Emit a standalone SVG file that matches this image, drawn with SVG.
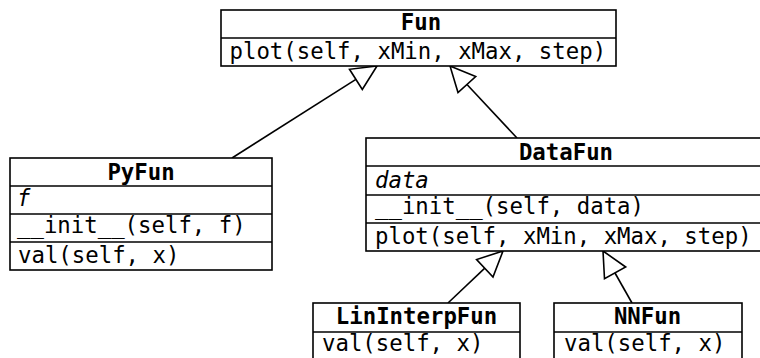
<svg xmlns="http://www.w3.org/2000/svg" width="760" height="358" viewBox="0 0 760 358">
<style>
.box{fill:#fff;stroke:#000;stroke-width:1.6}
.div{stroke:#000;stroke-width:1.6}
.t{font-family:"DejaVu Sans Mono","Liberation Mono",monospace;font-size:22.3px;fill:#000}
.b{font-weight:bold}
.i{font-style:italic}
.edge{stroke:#000;stroke-width:1.6;fill:none}
.head{fill:#fff;stroke:#000;stroke-width:1.6;stroke-linejoin:miter}
</style>
<rect width="760" height="358" fill="#fff"/>
<g id="connectors">
<line class="edge" x1="232" y1="158" x2="355.9" y2="79.4"/>
<polygon class="head" points="377,66 362.3,89.5 349.5,69.3"/>
<line class="edge" x1="517" y1="138" x2="467" y2="84.5"/>
<polygon class="head" points="450,66 475.7,76.5 458,92.5"/>
<line class="edge" x1="448" y1="303" x2="484.8" y2="268.2"/>
<polygon class="head" points="503,251 493,277 476.6,259.5"/>
<line class="edge" x1="632" y1="303" x2="615" y2="273"/>
<polygon class="head" points="603,251 625.7,267 604.5,278.8"/>
</g>
<g id="Fun">
<rect class="box" x="221" y="10" width="395" height="56"/>
<line class="div" x1="221" y1="38" x2="616" y2="38"/>
<text class="t b" x="400.8" y="30" textLength="40.35" lengthAdjust="spacingAndGlyphs">Fun</text>
<text class="t" x="229.5" y="59" textLength="376.6" lengthAdjust="spacingAndGlyphs">plot(self, xMin, xMax, step)</text>
</g>
<g id="PyFun">
<rect class="box" x="10" y="158" width="262" height="112"/>
<line class="div" x1="10" y1="186" x2="272" y2="186"/>
<line class="div" x1="10" y1="214" x2="272" y2="214"/>
<line class="div" x1="10" y1="242" x2="272" y2="242"/>
<text class="t b" x="107.4" y="180" textLength="67.25" lengthAdjust="spacingAndGlyphs">PyFun</text>
<text class="t i" x="17" y="206" textLength="13.45" lengthAdjust="spacingAndGlyphs">f</text>
<text class="t" x="17" y="233" textLength="228.65" lengthAdjust="spacingAndGlyphs">__init__(self, f)</text>
<text class="t" x="18" y="263" textLength="161.4" lengthAdjust="spacingAndGlyphs">val(self, x)</text>
</g>
<g id="DataFun">
<rect class="box" x="366" y="138" width="396" height="113"/>
<line class="div" x1="366" y1="166" x2="762" y2="166"/>
<line class="div" x1="366" y1="195" x2="762" y2="195"/>
<line class="div" x1="366" y1="223" x2="762" y2="223"/>
<text class="t b" x="518.9" y="160" textLength="94.15" lengthAdjust="spacingAndGlyphs">DataFun</text>
<text class="t i" x="375" y="188" textLength="53.8" lengthAdjust="spacingAndGlyphs">data</text>
<text class="t" x="375" y="214" textLength="269" lengthAdjust="spacingAndGlyphs">__init__(self, data)</text>
<text class="t" x="375" y="244" textLength="376.6" lengthAdjust="spacingAndGlyphs">plot(self, xMin, xMax, step)</text>
</g>
<g id="LinInterpFun">
<rect class="box" x="313" y="303" width="207" height="60"/>
<line class="div" x1="313" y1="332" x2="520" y2="332"/>
<text class="t b" x="335.8" y="324" textLength="161.4" lengthAdjust="spacingAndGlyphs">LinInterpFun</text>
<text class="t" x="322" y="351" textLength="161.4" lengthAdjust="spacingAndGlyphs">val(self, x)</text>
</g>
<g id="NNFun">
<rect class="box" x="554" y="303" width="188" height="60"/>
<line class="div" x1="554" y1="332" x2="742" y2="332"/>
<text class="t b" x="613.9" y="324" textLength="67.25" lengthAdjust="spacingAndGlyphs">NNFun</text>
<text class="t" x="564" y="351" textLength="161.4" lengthAdjust="spacingAndGlyphs">val(self, x)</text>
</g>
</svg>
